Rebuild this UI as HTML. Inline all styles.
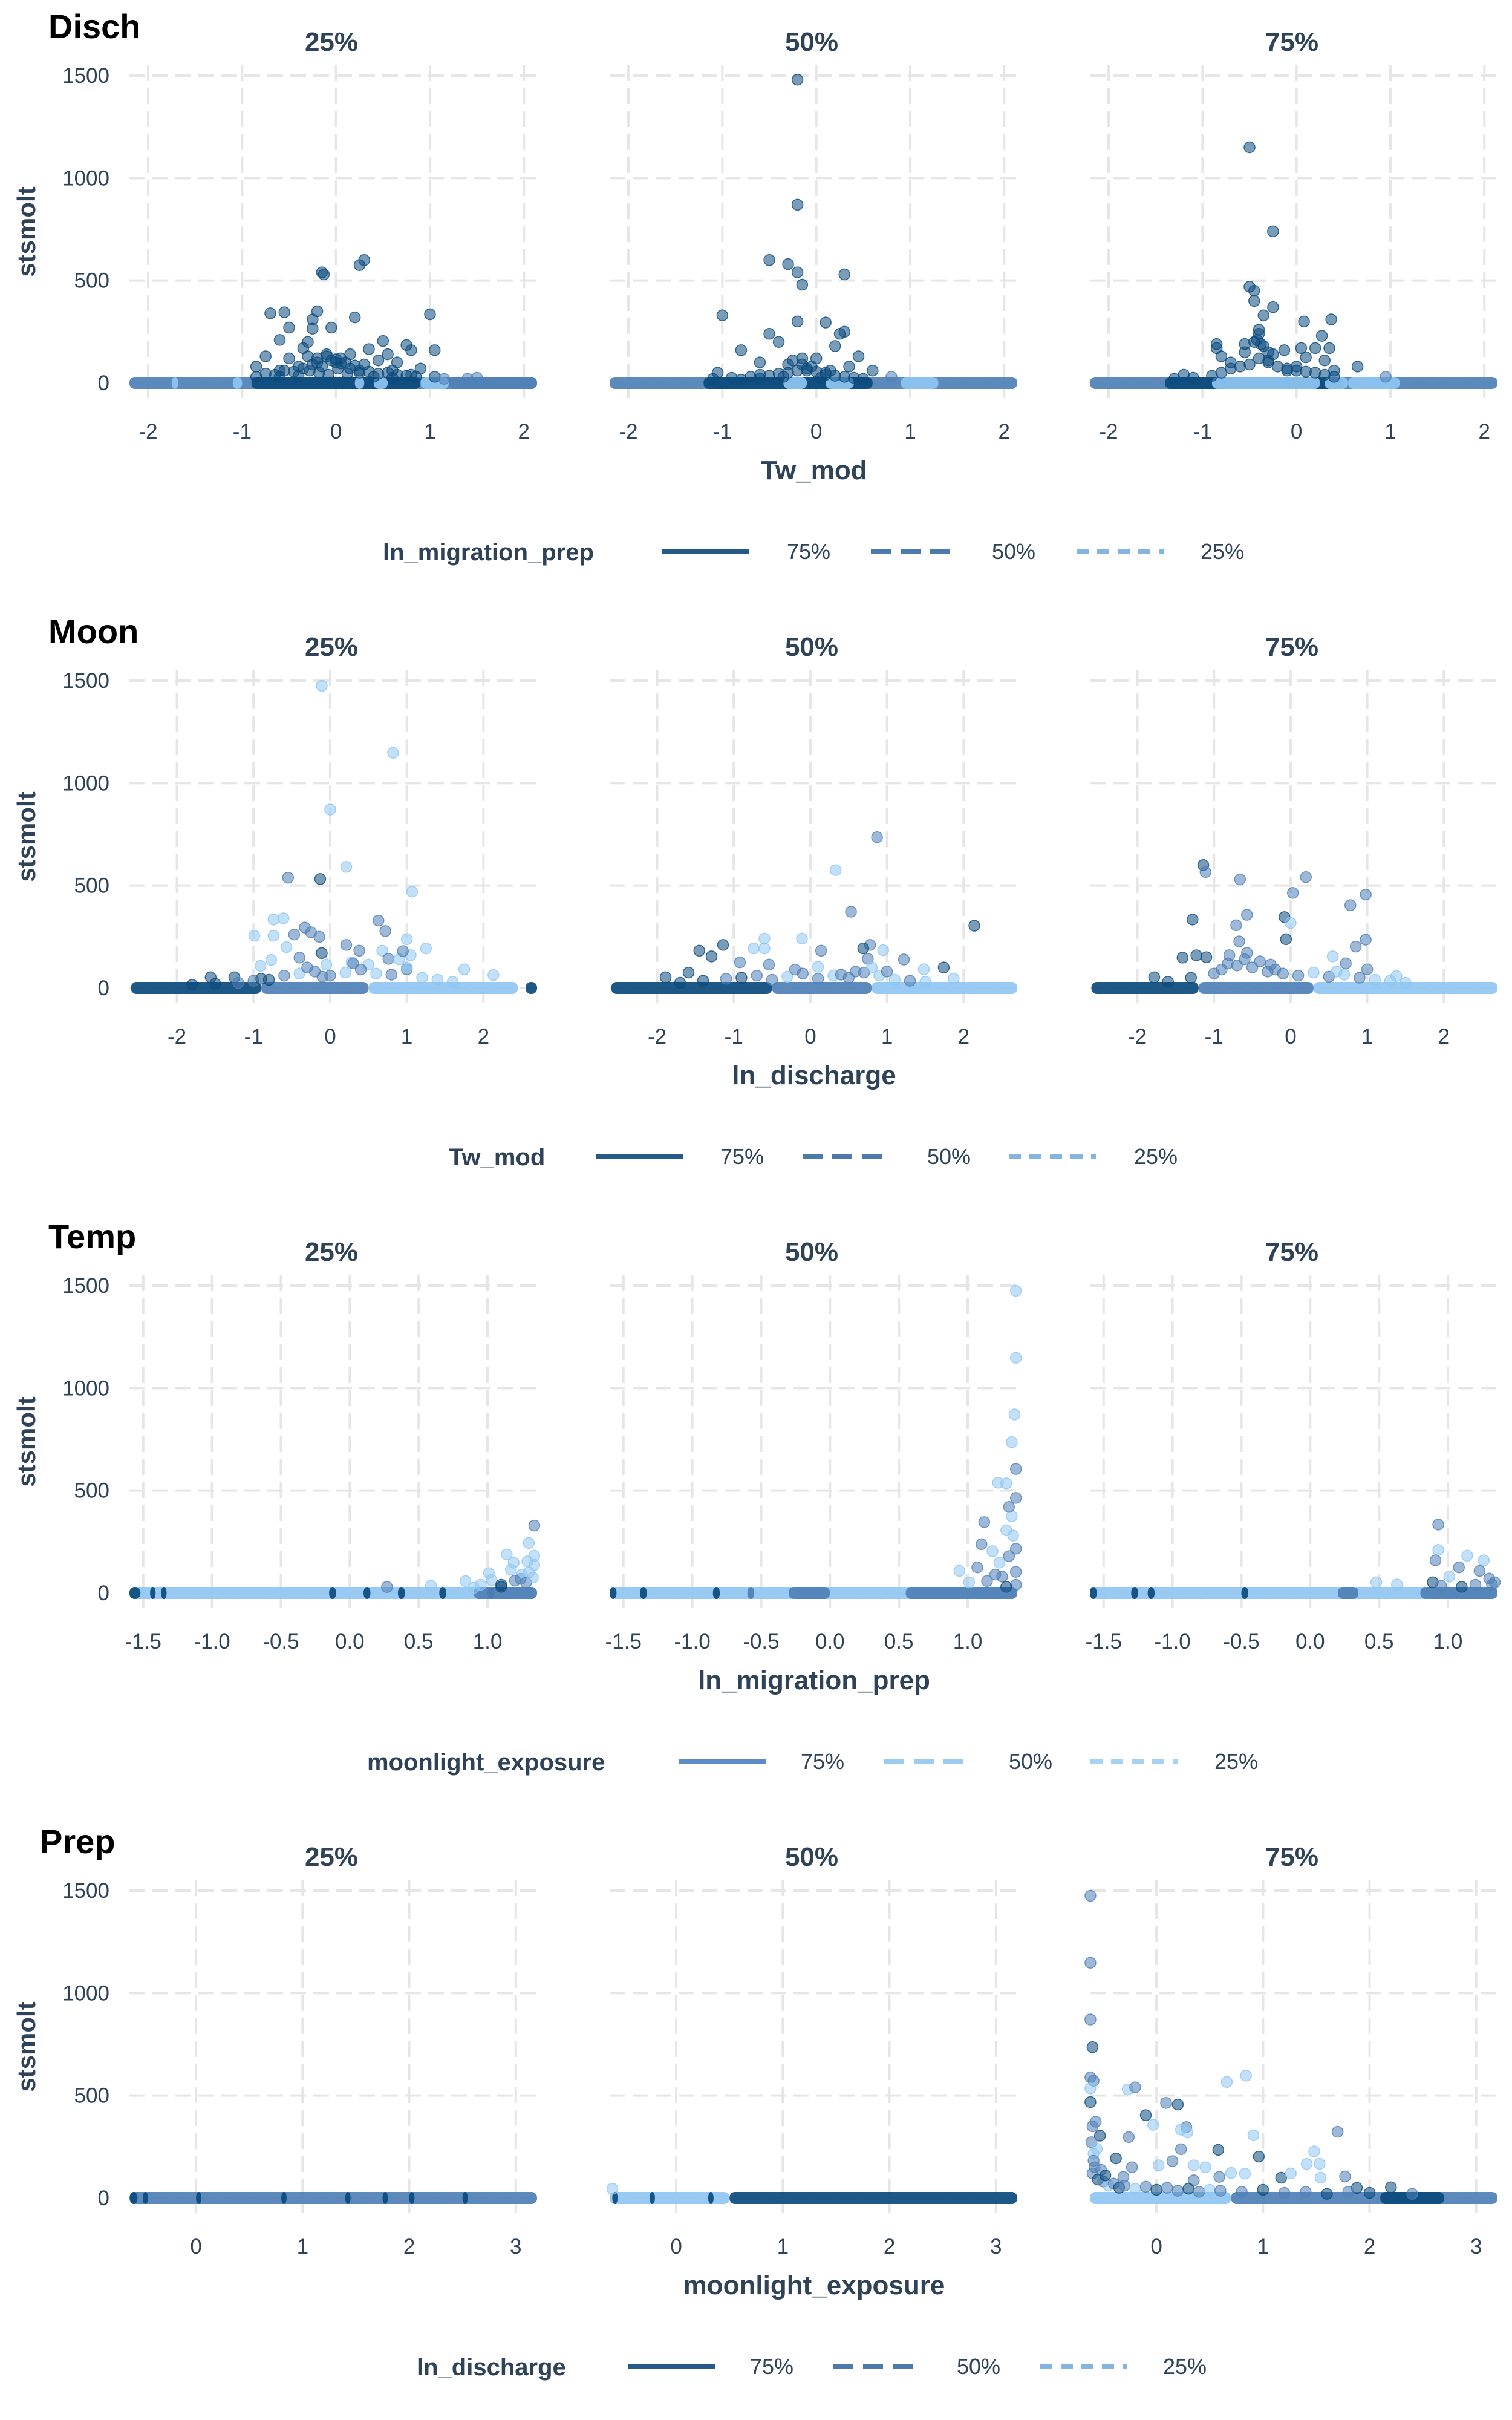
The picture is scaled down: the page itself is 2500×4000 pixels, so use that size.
<!DOCTYPE html>
<html><head><meta charset="utf-8"><style>
html,body{margin:0;padding:0;background:#fff;}
svg{display:block;font-family:"Liberation Sans",sans-serif;}
</style></head><body>
<svg id="chart" width="2500" height="4000" viewBox="0 0 2500 4000" xmlns="http://www.w3.org/2000/svg"></svg>
<script>
// ---------- data (x value, stsmolt value, group: 0=75%,1=50%,2=25%) ----------
const yTicks = [0, 500, 1000, 1500];
const panelLabels = ["25%", "50%", "75%"];
const legendLabels = ["75%", "50%", "25%"];
const rowTitles = ["Disch", "Moon", "Temp", "Prep"];
const xTitles = ["Tw_mod", "ln_discharge", "ln_migration_prep", "moonlight_exposure"];
const legendTitles = ["ln_migration_prep", "Tw_mod", "moonlight_exposure", "ln_discharge"];
const xTicks1 = [-2, -1, 0, 1, 2];
const xTicks2 = [-2, -1, 0, 1, 2];
const xTicks3 = [-1.5, -1.0, -0.5, 0.0, 0.5, 1.0];
const xTickLabels3 = ["-1.5", "-1.0", "-0.5", "0.0", "0.5", "1.0"];
const xTicks4 = [0, 1, 2, 3];

// Row 1 (Disch)
const r1p1x = [0.3,0.25,-0.15,-0.13,-0.7,-0.55,-0.2,0.2,1.0,-0.25,-0.5,-0.25,-0.05,0.5,-0.6,0.75,0.8,0.35,1.05,-0.3,-0.35,0.55,-0.75,-0.5,0.45,0.15,-0.1,0.05,-0.85,0.65,-0.2,0.3,0.9,-0.4,0.6,0.0,-0.6,0.25,0.8,1.4,1.5,
  -0.85,-0.75,-0.65,-0.55,-0.45,-0.35,-0.25,-0.15,-0.05,0.05,0.15,0.25,0.35,0.45,0.55,0.65,0.75,0.85,-0.3,-0.2,-0.1,0,0.1,0.2,-0.4,0.4,0.6,-0.6,1.05,1.15,-0.28,-0.18,-0.08,0.02,0.12];
const r1p1y = [600,575,540,530,340,345,350,320,335,310,270,265,270,205,210,185,160,165,160,200,170,140,130,120,110,140,130,120,80,100,100,90,70,80,60,100,60,50,40,20,25,
  30,45,40,60,55,70,90,80,110,95,70,60,55,45,50,40,35,30,130,120,140,115,100,85,35,30,25,30,30,20,60,50,40,70,45];
const r1p1g = [0,0,0,0,0,0,0,0,0,0,0,0,0,0,0,0,0,0,0,0,0,0,0,0,0,0,0,0,0,0,0,0,0,0,0,0,0,0,0,1,1,
  0,0,0,0,0,0,0,0,0,0,0,0,0,0,0,0,0,0,0,0,0,0,0,0,0,0,0,0,0,1,0,0,0,0,0];
const r1p2x = [-0.2,-0.2,-0.5,-0.3,-0.2,0.3,-0.15,-1.0,-0.2,0.1,0.3,0.25,-0.5,-0.4,-0.8,0.2,0.45,-0.15,-0.6,0.0,-0.3,0.35,-1.05,0.6,-0.1,0.1,-0.6,0.8,
  -1.1,-0.9,-0.7,-0.5,-0.4,-0.3,-0.2,-0.1,0,0.1,0.2,0.3,0.4,0.5,-0.25,-0.15,-0.05,-0.6,-0.8,0.15,-0.35,0.05];
const r1p2y = [1480,870,600,580,540,530,480,330,300,295,250,240,240,200,160,180,130,120,100,120,90,80,50,60,60,50,40,30,
  20,25,30,35,45,50,60,70,55,40,35,30,25,20,110,90,80,20,15,60,30,25];
const r1p2g = [0,0,0,0,0,0,0,0,0,0,0,0,0,0,0,0,0,0,0,0,0,0,0,0,0,0,0,1,
  0,0,0,0,0,0,0,0,0,0,0,0,0,0,0,0,0,0,0,0,0,0];
const r1p3x = [-0.5,-0.25,-0.5,-0.45,-0.45,-0.25,-0.35,0.08,0.37,-0.4,-0.4,0.27,-0.85,-0.55,0.05,0.2,0.35,-0.13,-0.3,-0.85,-0.8,0.1,0.3,0.65,-0.3,0.0,-0.7,-1.2,0.95,-0.1,0.4,
  -1.3,-1.1,-0.9,-0.8,-0.7,-0.6,-0.5,-0.4,-0.3,-0.2,-0.1,0,0.1,0.2,0.3,0.4,-0.45,-0.35,-0.25,-0.55,-0.42,-0.38];
const r1p3y = [1150,740,470,450,400,370,330,300,310,260,240,230,190,190,170,170,170,160,150,170,130,125,110,80,100,80,100,40,30,60,60,
  20,25,35,50,70,80,90,120,110,80,70,60,55,50,40,30,200,180,140,150,210,190];
const r1p3g = [0,0,0,0,0,0,0,0,0,0,0,0,0,0,0,0,0,0,0,0,0,0,0,0,0,0,0,0,1,0,0,
  0,0,0,0,0,0,0,0,0,0,0,0,0,0,0,0,0,0,0,0,0,0];
// baseline bands: start, end, group
const r1p1bs = [-2.2,-0.9,-1.75,-1.1,0.2,0.4,0.9,1.2];
const r1p1be = [2.14,0.9,-1.68,-1.0,0.3,0.55,1.2,2.14];
const r1p1bg = [1,0,2,2,2,2,2,1];
const r1p2bs = [-2.2,-1.2,-0.35,0.1,0.9];
const r1p2be = [2.14,0.6,-0.1,0.4,1.3];
const r1p2bg = [1,0,2,2,2];
const r1p3bs = [-2.2,-1.4,-0.9,0.3,0.55];
const r1p3be = [2.14,0.5,0.25,0.55,1.1];
const r1p3bg = [1,0,2,2,2];

// Row 2 (Moon)
const r2p1x = [-0.11,0.82,0,0.21,-0.55,-0.13,1.07,-0.74,-0.61,0.63,-0.33,-0.99,-0.74,-0.25,-0.47,0.72,-0.14,1.0,1.25,-0.57,0.21,0.38,0.68,-0.11,-0.4,-0.77,0.76,-0.05,-0.91,1.75,2.13,-1.56,-1.25,1.0,0.28,0.5,
  -1.8,-1.5,-1.2,-1.0,-0.8,-0.6,-0.4,-0.2,0,0.2,0.4,0.6,0.8,1.0,1.2,1.4,1.6,-0.3,0.3,0.9,1.05,0.95,-0.9,-0.1];
const r2p1y = [1475,1148,871,591,538,532,470,334,340,329,295,255,255,272,261,278,250,238,193,199,210,182,182,170,148,137,142,114,108,91,63,52,52,91,125,114,
  15,20,25,35,40,60,70,80,60,75,90,70,65,100,50,40,30,100,120,140,160,180,45,55];
const r2p1g = [2,2,2,2,1,0,2,2,2,1,1,2,2,1,1,1,1,2,2,2,1,1,2,0,1,2,1,2,2,2,2,0,0,1,2,2,
  0,0,1,1,0,1,2,1,1,2,1,2,1,2,2,2,2,1,1,2,2,1,0,1];
const r2p2x = [0.87,0.33,0.53,2.14,-0.6,-0.11,-1.14,-1.45,-0.74,-0.6,0.78,0.69,0.95,0.14,-1.29,0.75,1.22,-0.92,-0.54,0.1,1.74,-1.59,1.48,0.59,1.87,-1.89,
  -1.7,-1.4,-1.1,-0.9,-0.7,-0.5,-0.3,-0.1,0.1,0.3,0.5,0.7,0.9,1.1,1.3,1.5,-0.2,0.4,0.8,1.0];
const r2p2y = [736,575,372,304,241,241,210,182,193,193,210,193,184,182,154,142,139,125,114,103,100,75,91,80,46,52,
  25,35,45,50,60,40,55,70,45,60,50,75,60,40,35,30,90,65,100,80];
const r2p2g = [1,2,1,0,2,2,0,0,2,2,1,0,2,1,0,1,1,1,1,2,0,0,2,1,2,0,
  0,0,1,0,1,1,2,1,1,2,1,1,2,2,1,2,1,1,2,1];
const r2p3x = [-1.14,-1.11,-0.66,0.2,0.03,0.98,0.78,-1.28,-0.57,-0.08,0,-0.71,-0.06,0.98,-0.67,0.85,-0.57,0.55,-1.41,-1.23,-0.82,-0.26,1.0,-1.78,0.72,1.38,
  -1.6,-1.3,-1.0,-0.9,-0.7,-0.5,-0.3,-0.1,0.1,0.3,0.5,0.7,0.9,1.1,1.3,1.5,-0.6,-0.4,-0.2,0.6,-1.1,-0.8];
const r2p3y = [600,566,530,541,464,456,404,334,357,346,317,306,238,236,227,202,171,154,148,159,120,114,91,52,120,58,
  30,50,70,90,110,100,80,70,60,75,55,65,50,40,35,25,140,130,90,80,150,160];
const r2p3g = [0,1,1,1,1,1,1,0,1,0,2,1,0,1,1,1,1,2,0,0,1,1,1,0,1,2,
  0,0,1,1,1,1,1,1,1,2,1,2,1,2,2,2,1,1,1,2,0,1];
const r2p1bs = [-2.6,-0.9,0.5,2.55];
const r2p1be = [-0.9,0.5,2.45,2.7];
const r2p1bg = [0,1,2,0];
const r2p2bs = [-2.6,-0.5,0.8];
const r2p2be = [-0.5,0.8,2.7];
const r2p2bg = [0,1,2];
const r2p3bs = [-2.6,-1.2,0.3];
const r2p3be = [-1.2,0.3,2.7];
const r2p3bg = [0,1,2];

// Row 3 (Temp)
const r3p1x = [1.34,1.3,1.14,1.29,1.19,1.01,1.17,0.84,1.03,1.24,1.34,1.34,0.59,0.27,1.1,1.25,1.2,1.3,1.1,0.95,0.9,1.28,1.33];
const r3p1y = [329,244,188,154,148,97,114,58,63,69,182,137,35,29,40,90,60,100,30,40,25,50,75];
const r3p1g = [1,2,2,2,2,2,2,2,2,1,2,2,2,1,0,2,1,2,0,2,2,1,2];
const r3p2x = [1.35,1.35,1.34,1.32,1.22,1.28,1.35,1.35,1.12,1.32,1.1,1.28,1.18,0.94,1.07,1.23,1.35,1.35,1.14,1.01,1.3,1.25,1.33,1.3,1.2,1.35,1.28];
const r3p2y = [1475,1148,871,736,538,535,605,464,346,374,238,306,204,108,125,148,216,103,58,52,420,80,280,180,90,40,30];
const r3p2g = [2,2,2,2,2,2,1,1,1,2,1,2,2,2,1,2,1,1,1,2,1,1,2,1,1,1,0];
const r3p3x = [0.93,0.93,0.91,1.14,1.26,1.08,1.23,1.01,0.48,0.63,1.34,0.89,1.3,1.2,1.1,0.95,1.32];
const r3p3y = [334,210,159,182,159,125,108,80,52,41,52,52,70,40,30,35,40];
const r3p3g = [1,2,1,2,2,1,1,2,2,2,1,0,1,1,0,1,1];
const r3p1bs = [-1.6,-1.6,-1.45,-1.37,-0.15,0.1,0.35,0.65,1.0,0.9];
const r3p1be = [1.36,-1.52,-1.41,-1.33,-0.1,0.15,0.4,0.7,1.05,1.36];
const r3p1bg = [2,0,0,0,0,0,0,0,0,1];
const r3p2bs = [-1.6,-1.6,-1.38,-0.85,-0.6,-0.3,0.55];
const r3p2be = [1.36,-1.55,-1.33,-0.8,-0.55,0.0,1.36];
const r3p2bg = [2,0,0,0,1,1,1];
const r3p3bs = [-1.6,-1.6,-1.3,-1.18,-0.5,0.2,0.8];
const r3p3be = [1.36,-1.55,-1.25,-1.13,-0.45,0.35,1.36];
const r3p3bg = [2,0,0,0,0,1,1];

// Row 4 (Prep)
const r4p1x = [];
const r4p1y = [];
const r4p1g = [];
const r4p2x = [-0.6];
const r4p2y = [45];
const r4p2g = [2];
const r4p3x = [-0.62,-0.62,-0.62,-0.6,-0.62,-0.59,-0.62,-0.27,-0.2,0.66,0.84,-0.62,0.09,0.2,-0.1,-0.57,-0.03,0.28,0.23,0.29,1.7,-0.53,-0.26,0.91,0.23,0.58,0.96,1.48,-0.38,0.15,1.41,1.53,-0.23,0.02,0.35,0.46,1.54,1.77,0.7,0.83,1.17,1.26,2.2,1.88,-0.31,0.35,0.59,-0.52,-0.59,-0.61,-0.59,
  -0.6,-0.55,-0.5,-0.45,-0.4,-0.35,-0.3,-0.2,-0.1,0,0.1,0.2,0.3,0.4,0.5,0.6,0.8,1.0,1.2,1.4,1.6,1.8,2.0,2.4,-0.58,-0.48,-0.6,-0.56];
const r4p3y = [1475,1148,871,736,589,572,535,530,540,566,597,468,464,456,404,372,357,346,334,320,323,304,297,306,238,235,202,227,193,180,166,167,150,159,159,150,99,105,122,119,99,120,52,49,103,86,103,137,216,272,182,
  120,90,80,60,70,50,60,45,55,40,50,35,45,30,40,35,30,40,25,30,20,30,25,20,150,110,350,240];
const r4p3g = [1,1,1,0,1,1,2,2,1,2,2,0,1,0,0,1,2,1,2,2,1,0,1,2,1,0,0,2,0,1,2,2,1,2,2,2,2,1,2,2,0,2,0,0,1,1,1,1,2,1,1,
  1,0,1,2,1,0,1,2,1,0,1,1,0,1,2,1,1,0,1,1,0,1,0,1,1,0,1,2];
const r4p1bs = [-0.625,-0.62,-0.5,0.0,0.8,1.4,1.75,2.0,2.5];
const r4p1be = [3.2,-0.55,-0.45,0.05,0.85,1.45,1.8,2.05,2.55];
const r4p1bg = [1,0,0,0,0,0,0,0,0];
const r4p2bs = [-0.625,0.5,-0.6,-0.25,0.3];
const r4p2be = [0.5,3.2,-0.55,-0.2,0.35];
const r4p2bg = [2,0,0,0,0];
const r4p3bs = [-0.625,0.7,2.1];
const r4p3be = [0.7,3.2,2.7];
const r4p3bg = [2,1,0];

// ---------- layout ----------
const SVGNS = "http://www.w3.org/2000/svg";
const svg = document.getElementById("chart");
const panelLeft = [214, 1008, 1802];
const panelW = 674;
const rowH = 1000;
const yZero = 633, yTop = 125;
const ptColors = ["#0b4a7d", "#4f80b6", "#8fc6f2"];
const rows = [
  {xmin:-2.2, xmax:2.14, ticks:xTicks1, labels:xTicks1.map(String), titleX:80,
   pts:[[r1p1x,r1p1y,r1p1g],[r1p2x,r1p2y,r1p2g],[r1p3x,r1p3y,r1p3g]],
   bands:[[r1p1bs,r1p1be,r1p1bg],[r1p2bs,r1p2be,r1p2bg],[r1p3bs,r1p3be,r1p3bg]],
   leg:{titleX:633, lines:[1095,1440,1780], labs:[1301,1640,1985], cols:["#265a8a","#4d7aad","#85b4e0"]}},
  {xmin:-2.62, xmax:2.7, ticks:xTicks2, labels:xTicks2.map(String), titleX:80,
   pts:[[r2p1x,r2p1y,r2p1g],[r2p2x,r2p2y,r2p2g],[r2p3x,r2p3y,r2p3g]],
   bands:[[r2p1bs,r2p1be,r2p1bg],[r2p2bs,r2p2be,r2p2bg],[r2p3bs,r2p3be,r2p3bg]],
   leg:{titleX:742, lines:[985,1327,1668], labs:[1191,1533,1875], cols:["#265a8a","#4d7aad","#85b4e0"]}},
  {xmin:-1.6, xmax:1.36, ticks:xTicks3, labels:xTickLabels3, titleX:80,
   pts:[[r3p1x,r3p1y,r3p1g],[r3p2x,r3p2y,r3p2g],[r3p3x,r3p3y,r3p3g]],
   bands:[[r3p1bs,r3p1be,r3p1bg],[r3p2bs,r3p2be,r3p2bg],[r3p3bs,r3p3be,r3p3bg]],
   leg:{titleX:607, lines:[1122,1462,1803], labs:[1324,1668,2008], cols:["#5b8cc8","#9ccbf2","#a8d2f4"]}},
  {xmin:-0.625, xmax:3.2, ticks:xTicks4, labels:xTicks4.map(String), titleX:66,
   pts:[[r4p1x,r4p1y,r4p1g],[r4p2x,r4p2y,r4p2g],[r4p3x,r4p3y,r4p3g]],
   bands:[[r4p1bs,r4p1be,r4p1bg],[r4p2bs,r4p2be,r4p2bg],[r4p3bs,r4p3be,r4p3bg]],
   leg:{titleX:689, lines:[1038,1378,1720], labs:[1240,1582,1923], cols:["#265a8a","#4d7aad","#85b4e0"]}}
];
const dashes = [null, "33 16", "20 14"];

function mk(tag, attrs, parent){
  const e = document.createElementNS(SVGNS, tag);
  for (const k in attrs) e.setAttribute(k, attrs[k]);
  (parent||svg).appendChild(e);
  return e;
}
function txt(s, attrs, parent){ const t = mk("text", attrs, parent); t.textContent = s; return t; }

rows.forEach((row, ri) => {
  const oy = ri * rowH;
  const g = mk("g", {});
  
  
  const yS = v => oy + yZero - v * (yZero - yTop) / 1500;

  const title = txt(rowTitles[ri], {x:row.titleX, y:oy+63, "font-size":56, "font-weight":"bold", fill:"#000"}, g);
  
  

  const yt = txt("stsmolt", {x:0, y:0, transform:`translate(58,${oy+383}) rotate(-90)`, "text-anchor":"middle", "font-size":42, "font-weight":"bold", fill:"#2e4258"}, g);
  
  

  yTicks.forEach(v => {
    const t = txt(String(v), {x:181, y:yS(v)+12, "text-anchor":"end", "font-size":35, fill:"#2e4258"}, g);
    
    
  });

  for (let p = 0; p < 3; p++) {
    const L = panelLeft[p];
    const xS = v => L + (v - row.xmin) / (row.xmax - row.xmin) * panelW;
    const pg = mk("g", {}, g);
    
    

    const fl = txt(panelLabels[p], {x:L+panelW/2-3, y:oy+84, "text-anchor":"middle", "font-size":44, "font-weight":"bold", fill:"#2e4258"}, pg);
    
    

    yTicks.forEach(v => {
      const l = mk("line", {x1:L, x2:L+panelW, y1:yS(v), y2:yS(v), stroke:"#e6e6e6", "stroke-width":4, "stroke-dasharray":"26 12"}, pg);
      
      
    });
    row.ticks.forEach((v, i) => {
      const x = xS(v);
      const l = mk("line", {x1:x, x2:x, y1:oy+108, y2:oy+658, stroke:"#e6e6e6", "stroke-width":4, "stroke-dasharray":"26 12"}, pg);
      
      
      const t = txt(row.labels[i], {x:x, y:oy+725, "text-anchor":"middle", "font-size":35, fill:"#2e4258"}, pg);
      
      
    });

    const [bs, be, bg] = row.bands[p];
    bs.forEach((s, i) => {
      const x1 = xS(s), x2 = xS(be[i]);
      const r = mk("rect", {x:x1, y:oy+yZero-10, width:Math.max(x2-x1, 5), height:20, rx:9, fill:ptColors[bg[i]], opacity:0.92}, pg);
      
      
    });

    const [xs, ys, gs] = row.pts[p];
    xs.forEach((xv, i) => {
      const c = mk("circle", {cx:xS(xv), cy:yS(ys[i]), r:9, fill:ptColors[gs[i]], "fill-opacity":0.55, stroke:ptColors[gs[i]], "stroke-opacity":0.8, "stroke-width":1.5}, pg);
      
      
    });
  }

  const xt = txt(xTitles[ri], {x:1346, y:oy+792, "text-anchor":"middle", "font-size":44, "font-weight":"bold", fill:"#2e4258"}, g);
  
  

  const lg = mk("g", {}, g);
  
  
  const lt = txt(legendTitles[ri], {x:row.leg.titleX, y:oy+926, "font-size":40, "font-weight":"bold", fill:"#2e4258"}, lg);
  
  
  for (let k = 0; k < 3; k++) {
    const a = {x1:row.leg.lines[k], x2:row.leg.lines[k]+144, y1:oy+911, y2:oy+911, stroke:row.leg.cols[k], "stroke-width":8};
    if (dashes[k]) a["stroke-dasharray"] = dashes[k];
    const l = mk("line", a, lg);
    
    
    const t = txt(legendLabels[k], {x:row.leg.labs[k], y:oy+924, "font-size":36, fill:"#2e4258"}, lg);
    
    
  }
});
</script>
</body></html>
